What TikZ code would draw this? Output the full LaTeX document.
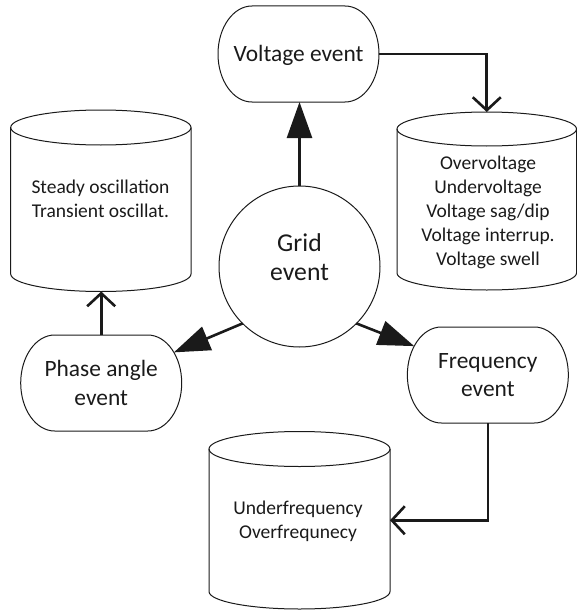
\documentclass[tikz,border=0pt]{standalone}
\usepackage{fontspec}
\setmainfont{Carlito}
\usetikzlibrary{arrows.meta,intersections}
\definecolor{ink}{HTML}{1A1A1A}
\tikzset{
  outline/.style={draw=ink, line width=1pt},
  holder/.style={inner sep=0pt, outer sep=0pt},
  termtext/.style={holder, align=center, text=ink,
    font=\fontsize{23.4pt}{28.5pt}\selectfont,
    minimum width=161pt, minimum height=96pt},
  listtext/.style={holder, align=center, text=ink,
    font=\fontsize{19.5pt}{24pt}\selectfont},
  gridtext/.style={holder, align=center, text=ink,
    font=\fontsize{25.7pt}{29pt}\selectfont},
  bigarrow/.style={draw=ink, line width=2.6pt, -{Triangle[length=36pt,width=25pt]}},
  openarrow/.style={draw=ink, line width=2.6pt, -{Straight Barb[length=13pt,width=28pt]}}
}
% terminator outline: node name, path name
\newcommand\termoutline[2]{%
  \draw[outline, name path=#2] ([xshift=34pt]#1.north west) -- ([xshift=-34pt]#1.north east)
    arc[start angle=90, end angle=-90, x radius=34pt, y radius=48pt]
    -- ([xshift=34pt]#1.south west)
    arc[start angle=270, end angle=90, x radius=34pt, y radius=48pt] -- cycle;}
% cylinder outline: node name, half width, ellipse y radius
\newcommand\cyloutline[3]{%
  \draw[outline] ([yshift=-#3pt]#1.north west) -- ([yshift=#3pt]#1.south west)
    arc[start angle=180, end angle=360, x radius=#2pt, y radius=#3pt]
    -- ([yshift=-#3pt]#1.north east);
  \draw[outline] ([yshift=-#3pt]#1.north) ellipse[x radius=#2pt, y radius=#3pt];}
\begin{document}
\begin{tikzpicture}[x=1pt,y=-1pt]
\useasboundingbox (0,0) rectangle (577,610);

% event shapes
\node[termtext, text height=18pt, text depth=2pt] (v) at (298.5,54) {Voltage event};
\termoutline{v}{v-border}
\node[termtext] (pa) at (101.2,383) {Phase angle\\event};
\termoutline{pa}{pa-border}
\node[termtext] (fq) at (487.85,375) {Frequency\\event};
\termoutline{fq}{fq-border}

% grid event
\node[outline, circle, holder, minimum size=161pt] (g) at (299.5,266.5) {};
\node[gridtext] (gt) at (299.5,257.2) {Grid\\event};

% cylinders
\node[holder, minimum width=180.3pt, minimum height=181.5pt] (osc) at (100.85,200.75) {};
\cyloutline{osc}{90.15}{17.5}
\node[listtext] (osct) at (100.5,198.7) {Steady oscillation\\Transient oscillat.};

\node[holder, minimum width=179.5pt, minimum height=178pt] (vt) at (486.75,201) {};
\cyloutline{vt}{89.75}{17}
\node[listtext] (vtt) at (488,212.8) {Overvoltage\\Undervoltage\\Voltage sag/dip\\Voltage interrup.\\Voltage swell};

\node[holder, minimum width=181pt, minimum height=177.5pt] (ft) at (299.5,520.25) {};
\cyloutline{ft}{90.5}{17.5}
\node[listtext] (ftt) at (298,521.2) {Underfrequency\\Overfrequnecy};

% connectors
\draw[bigarrow] (g.north) -- (g.north |- v.south);
\path[name path=pa-line] (g.225) -- (pa.center);
\path[name intersections={of=pa-line and pa-border, by=pa-in}];
\draw[bigarrow] (g.225) -- (pa-in);
\path[name path=fq-line] (g.315) -- (fq.center);
\path[name intersections={of=fq-line and fq-border, by=fq-in}];
\draw[bigarrow] (g.315) -- (fq-in);

\draw[openarrow] (pa.north) -- (pa.north |- osc.south);
\draw[openarrow] (v.east) -| (vt.north);
\draw[openarrow] (fq.south) |- (ft.east);
\end{tikzpicture}
\end{document}
